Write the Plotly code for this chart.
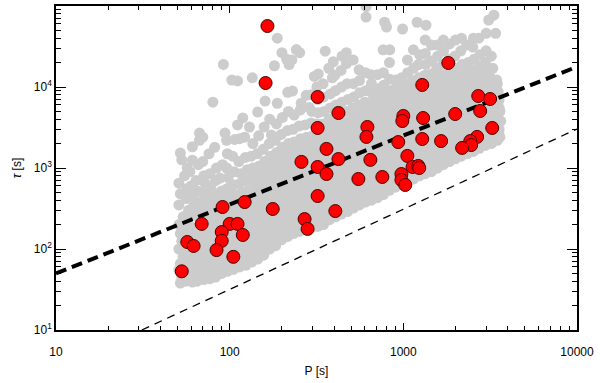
import plotly.graph_objects as go

# background sample: (P [s], tau [s])
gray_points = [
    (52, 38), (53, 45), (51, 55), (52, 66), (54, 80), (51, 100), (53, 125), (52, 155), (51, 200), (54, 250), (51, 350), (52, 480), (51, 650), (53, 1260), (52, 1530),
    (56, 40), (57, 48), (55, 58), (56, 72), (58, 90), (55, 112), (57, 140), (56, 180), (55, 230), (58, 300), (56, 420), (57, 560), (55, 800), (57, 1000),
    (61, 39), (60, 46), (62, 53), (59, 63), (61, 76), (60, 95), (62, 120), (61, 150), (59, 190), (60, 260), (62, 340), (61, 450), (60, 600), (59, 900), (61, 1250), (61, 1830),
    (65, 40), (66, 50), (64, 60), (66, 74), (65, 92), (64, 115), (66, 145), (65, 185), (67, 235), (64, 290), (66, 380), (65, 520), (64, 700), (66, 1100), (67, 2200),
    (71, 42), (70, 52), (72, 64), (71, 80), (70, 100), (73, 125), (71, 160), (72, 200), (70, 250), (71, 320), (73, 400), (70, 500), (72, 650), (71, 800), (70, 1200), (70, 2400), (67, 2700),
    (77, 43), (78, 54), (76, 67), (77, 84), (79, 105), (77, 135), (76, 170), (78, 215), (77, 270), (79, 350), (76, 460), (78, 600), (77, 850), (76, 1500), (80, 6500),
    (83, 45), (84, 56), (82, 70), (84, 88), (83, 110), (85, 140), (82, 175), (83, 225), (84, 290), (82, 370), (85, 480), (83, 700), (84, 1000), (82, 1800),
    (90, 50), (91, 62), (89, 78), (90, 98), (92, 122), (89, 155), (90, 195), (91, 245), (89, 310), (92, 400), (90, 520), (88, 750), (91, 1100), (94, 2700), (92, 19000),
    (97, 53), (99, 66), (96, 82), (97, 103), (100, 130), (96, 165), (98, 205), (97, 260), (95, 330), (99, 430), (97, 560), (98, 760), (96, 1000), (97, 1500), (96, 2200),
    (105, 56), (107, 70), (103, 88), (105, 110), (108, 140), (104, 175), (106, 220), (105, 280), (103, 360), (107, 470), (105, 620), (106, 900), (104, 1400), (107, 2250), (111, 3400), (103, 12200),
    (114, 60), (116, 75), (112, 94), (114, 118), (117, 148), (113, 185), (115, 235), (114, 300), (112, 380), (117, 490), (114, 640), (116, 850), (113, 1200), (114, 2300), (119, 4150), (111, 11900),
    (124, 63), (126, 78), (122, 98), (124, 123), (127, 155), (123, 195), (125, 245), (124, 310), (122, 400), (127, 520), (124, 700), (126, 950), (123, 1350), (122, 2400), (130, 3200),
    (134, 69), (137, 86), (132, 108), (134, 135), (138, 170), (133, 215), (136, 270), (134, 345), (132, 440), (137, 570), (134, 750), (136, 1000), (133, 1400), (136, 2000), (135, 13000),
    (145, 75), (148, 94), (142, 118), (145, 148), (149, 185), (144, 235), (147, 300), (145, 380), (143, 480), (148, 620), (145, 800), (147, 1050), (144, 1500), (147, 2500), (145, 4900),
    (157, 84), (160, 105), (154, 132), (157, 165), (161, 210), (156, 265), (159, 335), (157, 420), (155, 540), (160, 700), (157, 900), (159, 1200), (156, 1700), (158, 3200), (160, 6700),
    (170, 100), (173, 125), (167, 155), (170, 195), (174, 245), (169, 310), (172, 390), (170, 500), (168, 640), (173, 820), (170, 1050), (172, 1400), (169, 2000), (174, 2550), (170, 4000),
    (184, 110), (188, 138), (181, 172), (184, 215), (189, 270), (183, 340), (186, 430), (184, 550), (182, 700), (187, 900), (184, 1150), (186, 1550), (183, 2200), (186, 3500), (188, 6300), (181, 18300), (188, 40000),
    (199, 130), (203, 162), (196, 205), (199, 255), (204, 320), (198, 400), (201, 510), (199, 650), (197, 830), (203, 1050), (199, 1350), (201, 1800), (198, 2600), (201, 4200), (200, 26500),
    (216, 143), (220, 178), (212, 225), (216, 280), (221, 350), (215, 440), (218, 560), (216, 710), (214, 900), (220, 1150), (216, 1500), (218, 2000), (215, 2900), (218, 5000), (216, 8600), (213, 22000), (220, 18900),
    (233, 155), (237, 195), (229, 245), (233, 305), (238, 385), (232, 480), (235, 610), (233, 770), (231, 980), (237, 1250), (233, 1600), (235, 2100), (232, 3000), (235, 4500), (230, 8900), (228, 21600),
    (253, 165), (258, 205), (248, 260), (253, 325), (259, 410), (252, 520), (256, 660), (253, 840), (250, 1070), (258, 1350), (253, 1750), (256, 2300), (251, 3300), (255, 5200), (258, 6300), (253, 26500), (242, 29000),
    (274, 175), (279, 220), (269, 275), (274, 345), (280, 435), (273, 550), (277, 700), (274, 880), (271, 1100), (279, 1400), (274, 1800), (277, 2400), (272, 3400), (287, 5600), (276, 7900),
    (296, 185), (302, 230), (290, 290), (296, 365), (303, 460), (295, 580), (299, 740), (296, 930), (293, 1180), (302, 1500), (296, 1900), (299, 2500), (294, 3600), (298, 5000), (296, 8000), (307, 13500),
    (321, 190), (327, 240), (315, 300), (321, 380), (328, 480), (319, 600), (324, 760), (321, 960), (317, 1220), (327, 1550), (321, 1950), (324, 2550), (319, 3500), (323, 4800), (321, 7000), (318, 10000), (324, 14500),
    (347, 200), (354, 250), (340, 315), (347, 400), (355, 500), (345, 630), (351, 800), (347, 1000), (343, 1270), (354, 1600), (347, 2000), (351, 2600), (345, 3500), (349, 5000), (347, 7500), (345, 11000), (355, 27700),
    (376, 230), (383, 290), (368, 365), (376, 460), (385, 580), (374, 730), (380, 920), (376, 1160), (372, 1460), (383, 1850), (376, 2350), (380, 3000), (374, 4000), (378, 5500), (380, 8200), (390, 13000), (372, 17000),
    (407, 250), (415, 315), (399, 395), (407, 500), (417, 630), (405, 790), (411, 1000), (407, 1260), (403, 1600), (415, 2000), (407, 2550), (411, 3300), (405, 4300), (409, 6000), (407, 9000), (404, 14000), (395, 20500),
    (441, 270), (450, 340), (432, 430), (441, 540), (452, 680), (438, 860), (446, 1080), (441, 1360), (436, 1720), (450, 2150), (441, 2700), (446, 3500), (438, 4600), (443, 6500), (441, 10000), (438, 16000), (444, 24000),
    (477, 290), (487, 365), (467, 460), (477, 580), (489, 730), (474, 920), (482, 1160), (477, 1460), (472, 1840), (487, 2300), (477, 2900), (482, 3700), (474, 5000), (479, 7000), (475, 11000), (470, 19500), (470, 26500),
    (516, 320), (526, 400), (506, 500), (516, 630), (529, 800), (512, 1000), (521, 1260), (516, 1600), (511, 2000), (526, 2500), (516, 3200), (521, 4100), (512, 5500), (518, 7500), (516, 11000), (514, 21600),
    (559, 350), (570, 440), (548, 550), (559, 690), (573, 870), (555, 1100), (565, 1380), (559, 1740), (553, 2200), (570, 2750), (559, 3500), (565, 4500), (555, 6000), (561, 8500), (559, 12000), (556, 16300),
    (605, 380), (617, 480), (593, 600), (605, 750), (620, 950), (600, 1200), (611, 1500), (605, 1900), (599, 2400), (617, 3000), (605, 3800), (611, 4900), (600, 6500), (607, 9000), (605, 15000), (610, 73000), (610, 98000),
    (655, 400), (668, 500), (642, 630), (655, 800), (671, 1000), (650, 1260), (662, 1600), (655, 2000), (648, 2500), (668, 3200), (655, 4000), (662, 5000), (650, 6500), (657, 8500), (655, 11000), (652, 14200),
    (710, 430), (724, 540), (696, 680), (710, 860), (728, 1080), (704, 1360), (717, 1700), (710, 2150), (703, 2700), (724, 3400), (710, 4300), (717, 5500), (704, 7200), (712, 9500), (708, 14200),
    (768, 470), (783, 590), (753, 740), (768, 930), (787, 1170), (762, 1480), (776, 1860), (768, 2350), (760, 2950), (783, 3700), (768, 4700), (776, 6000), (762, 7800), (770, 10500), (768, 15000), (765, 28800), (780, 63000),
    (832, 530), (849, 670), (815, 840), (832, 1060), (853, 1330), (825, 1680), (840, 2100), (832, 2650), (824, 3350), (849, 4200), (832, 5300), (840, 6800), (825, 9000), (834, 12500), (832, 20000), (835, 28800), (800, 55000),
    (901, 580), (919, 730), (883, 920), (901, 1160), (924, 1460), (894, 1840), (910, 2300), (901, 2900), (892, 3700), (919, 4600), (901, 5800), (910, 7300), (894, 9500), (903, 12200),
    (975, 630), (995, 790), (956, 1000), (975, 1260), (999, 1580), (967, 2000), (985, 2500), (975, 3150), (965, 4000), (995, 5000), (975, 6300), (985, 8000), (967, 10000), (977, 13000), (990, 52000),
    (1056, 680), (1077, 860), (1035, 1080), (1056, 1360), (1082, 1700), (1048, 2150), (1067, 2700), (1056, 3400), (1045, 4300), (1077, 5400), (1056, 6800), (1067, 8600), (1048, 11000), (1060, 15000), (1056, 21600),
    (1143, 730), (1166, 920), (1120, 1160), (1143, 1460), (1172, 1840), (1134, 2300), (1154, 2900), (1143, 3700), (1132, 4600), (1166, 5800), (1143, 7300), (1154, 9200), (1134, 12000), (1147, 17000), (1143, 28800),
    (1238, 800), (1263, 1000), (1213, 1260), (1238, 1600), (1269, 2000), (1228, 2500), (1250, 3200), (1238, 4000), (1226, 5000), (1263, 6300), (1238, 8000), (1250, 10000), (1228, 13000), (1220, 18900), (1242, 25000), (1200, 63000),
    (1340, 850), (1367, 1070), (1313, 1350), (1340, 1700), (1374, 2150), (1330, 2700), (1353, 3400), (1340, 4300), (1327, 5400), (1367, 6800), (1340, 8600), (1353, 11000), (1330, 14000), (1344, 19000), (1340, 26000), (1336, 38000), (1350, 58000),
    (1451, 900), (1480, 1130), (1422, 1420), (1451, 1800), (1487, 2260), (1440, 2850), (1466, 3600), (1451, 4500), (1436, 5700), (1480, 7200), (1451, 9000), (1466, 11500), (1440, 14500), (1455, 21000), (1451, 33000),
    (1571, 1000), (1602, 1260), (1540, 1580), (1571, 2000), (1610, 2500), (1559, 3150), (1587, 4000), (1571, 5000), (1555, 6300), (1602, 7900), (1571, 10000), (1587, 13000), (1559, 17000), (1575, 24000), (1571, 33000),
    (1700, 1100), (1734, 1380), (1666, 1740), (1700, 2200), (1743, 2750), (1687, 3500), (1717, 4400), (1700, 5500), (1683, 7000), (1734, 8800), (1700, 11000), (1717, 14000), (1687, 19000), (1704, 28000), (1700, 38000),
    (1841, 1200), (1878, 1500), (1804, 1900), (1841, 2400), (1887, 3000), (1827, 3800), (1859, 4800), (1841, 6000), (1823, 7600), (1878, 9500), (1841, 12000), (1859, 15000), (1827, 22000), (1845, 34000),
    (1993, 1300), (2033, 1640), (1953, 2060), (1993, 2600), (2043, 3270), (1978, 4100), (2013, 5200), (1993, 6500), (1973, 8200), (2033, 10300), (1993, 13000), (2013, 17000), (1978, 24000), (1997, 38000),
    (2158, 1400), (2201, 1760), (2115, 2220), (2158, 2800), (2212, 3500), (2142, 4400), (2180, 5600), (2158, 7000), (2136, 8800), (2201, 11000), (2158, 14000), (2180, 19000), (2142, 28000), (2162, 40000),
    (2337, 1500), (2384, 1900), (2290, 2400), (2337, 3000), (2395, 3800), (2319, 4700), (2360, 6000), (2337, 7500), (2314, 9500), (2384, 12000), (2337, 15000), (2360, 20000), (2319, 33000),
    (2530, 1600), (2581, 2000), (2479, 2500), (2530, 3200), (2593, 4000), (2511, 5000), (2555, 6300), (2530, 8000), (2505, 10000), (2581, 12600), (2530, 16000), (2555, 22000), (2511, 31000), (2534, 40000),
    (2739, 1750), (2794, 2200), (2684, 2750), (2739, 3500), (2807, 4400), (2718, 5500), (2766, 7000), (2739, 8800), (2712, 11000), (2794, 14000), (2739, 18000), (2766, 25000), (2718, 40000),
    (2966, 1900), (3025, 2400), (2907, 3000), (2966, 3800), (3040, 4800), (2944, 6000), (2996, 7600), (2966, 9500), (2936, 12000), (3025, 15000), (2966, 20000), (2996, 28000), (3000, 46000),
    (3211, 2000), (3275, 2500), (3147, 3150), (3211, 4000), (3291, 5000), (3187, 6300), (3243, 8000), (3211, 10000), (3179, 13000), (3275, 17000), (3211, 24000), (3100, 67000),
    (3477, 2200), (3547, 2750), (3407, 3500), (3477, 4400), (3564, 5500), (3451, 7000), (3512, 8800), (3477, 11000), (3442, 12200), (3400, 46000), (3320, 77000),
    (3600, 2400), (3560, 3000), (3640, 3800), (3600, 5000), (3560, 6900),
]

# highlighted events (P [s], tau [s])
red_points = [
    (165, 56600), (161, 11200), (321, 7530), (423, 4780), (321, 3120), (1815, 19800),
    (1285, 10600), (2700, 7740), (3160, 7110), (2770, 5060), (1990, 4640), (1300, 4140),
    (1000, 4390), (987, 3800), (621, 3210), (3250, 3120), (613, 2420), (935, 2090),
    (1285, 2280), (1650, 2150), (2660, 2420), (2430, 2150), (2460, 1920), (2180, 1770),
    (423, 1290), (646, 1260), (1055, 1410), (1130, 1030), (1220, 1060), (1235, 1000),
    (551, 731), (757, 775), (975, 843), (975, 711), (1026, 617), (406, 294),
    (361, 1720), (259, 1190), (321, 1030), (361, 843), (321, 451), (122, 380),
    (91, 330), (177, 312), (270, 234), (281, 177), (69, 204), (100, 204),
    (111, 204), (90, 162), (119, 149), (90, 126), (57, 122), (62, 109),
    (84, 97), (105, 80), (53, 53),
]

# power-law fit (thick) and lower limit (thin)
fit_P = [10, 10000]
fit_tau = [50, 17800]
limit_P = [31.2, 10000]
limit_tau = [10, 3030]

x_ticks = [10, 100, 1000, 10000]
x_labels = ['10', '100', '1000', '10000']
y_ticks = [10, 100, 1000, 10000, 100000]
y_labels = ['10<sup>1</sup>', '10<sup>2</sup>', '10<sup>3</sup>', '10<sup>4</sup>', '10<sup>5</sup>']

gray_P = [p for p, t in gray_points]
gray_tau = [t for p, t in gray_points]
red_P = [p for p, t in red_points]
red_tau = [t for p, t in red_points]

# minor tick positions 2..9 in every decade
x_minor = [m * 10 ** d for d in range(1, 4) for m in range(2, 10)]
y_minor = [m * 10 ** d for d in range(1, 5) for m in range(2, 10)]

fig = go.Figure()

fig.add_trace(go.Scatter(
    x=gray_P, y=gray_tau, mode='markers',
    marker=dict(size=11, color='rgb(204,204,204)', line=dict(width=0)),
    hoverinfo='skip'
))
fig.add_trace(go.Scatter(
    x=fit_P, y=fit_tau, mode='lines',
    line=dict(color='black', width=4, dash='11px,6px')
))
fig.add_trace(go.Scatter(
    x=limit_P, y=limit_tau, mode='lines',
    line=dict(color='black', width=1.3, dash='8px,6px')
))
fig.add_trace(go.Scatter(
    x=red_P, y=red_tau, mode='markers',
    marker=dict(size=13, color='#ff0000', line=dict(width=1, color='#4a0000'))
))

axis_common = dict(
    type='log', showgrid=False, zeroline=False, automargin=False,
    showline=True, linecolor='black', linewidth=1.5, mirror='allticks',
    ticks='inside', tickcolor='black', tickwidth=1.2,
    tickfont=dict(size=12, color='black'),
)

fig.update_layout(
    width=600, height=383,
    margin=dict(l=56, r=23, t=6, b=53),
    paper_bgcolor='white', plot_bgcolor='white',
    font=dict(family='Liberation Sans, Arial, sans-serif', size=12, color='black'),
    showlegend=False,
    xaxis=dict(
        axis_common, range=[1, 4],
        tickmode='array', tickvals=x_ticks, ticktext=x_labels, ticklen=7,
        ticklabelstandoff=10,
        minor=dict(ticks='inside', ticklen=4, tickwidth=1, tickmode='array', tickvals=x_minor, tickcolor='black'),
        title=dict(text='P [s]', font=dict(size=12), standoff=8),
    ),
    yaxis=dict(
        axis_common, range=[1, 5],
        tickmode='array', tickvals=y_ticks, ticktext=y_labels, ticklen=10,
        minor=dict(ticks='inside', ticklen=5, tickwidth=1, tickmode='array', tickvals=y_minor, tickcolor='black'),
        title=dict(text='<i>τ</i> [s]', font=dict(size=12), standoff=10),
    ),
)

fig.write_html('out.html', config={'displayModeBar': False},
               post_script="document.body.style.margin='0';")
